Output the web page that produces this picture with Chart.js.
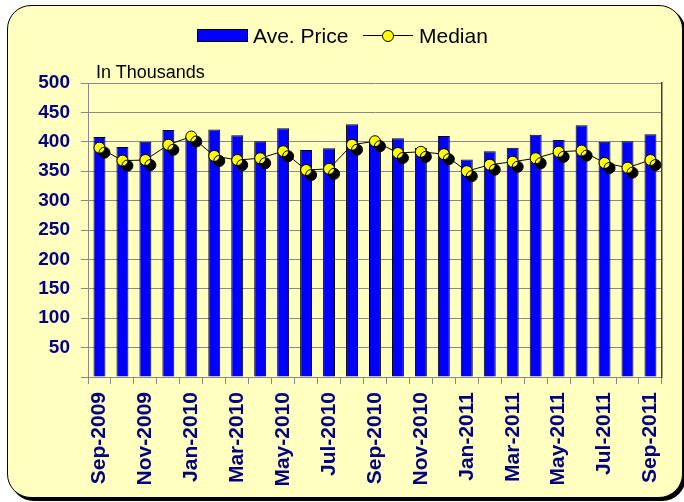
<!DOCTYPE html>
<html>
<head>
<meta charset="utf-8">
<script src="https://cdn.jsdelivr.net/npm/chart.js@4/dist/chart.umd.min.js"></script>
<style>
  body { margin: 0; background: #fff; width: 684px; height: 502px; overflow: hidden; position: relative; font-family: "Liberation Sans", Arial, sans-serif; }
  #frame { position: absolute; left: 7px; top: 5px; width: 674px; height: 491px; background: #FFFFC0; border: 1px solid #000; border-radius: 24px; box-shadow: 3px 3px 0 #000; }
  #chart { position: absolute; left: 0; top: 0; }
  .lg { position: absolute; font-size: 21px; color: #000; line-height: 21px; }
  #unit { position: absolute; left: 96px; top: 63px; font-size: 18px; line-height: 18px; color: #000; }
</style>
</head>
<body>
<div id="frame"></div>
<canvas id="chart" width="684" height="502"></canvas>
<div style="position:absolute;left:197px;top:29px;width:49px;height:11px;background:#0000FF;border:1px solid #000;"></div>
<div class="lg" style="left:253px;top:25px;">Ave. Price</div>
<div style="position:absolute;left:363px;top:35px;width:50px;height:1px;background:#000;"></div>
<div style="position:absolute;left:382px;top:30px;width:10px;height:10px;border-radius:50%;background:#FFFF00;border:1px solid #000;"></div>
<div class="lg" style="left:419px;top:25px;">Median</div>
<div id="unit">In Thousands</div>
<script>
let months = ['Sep-2009', 'Oct-2009', 'Nov-2009', 'Dec-2009', 'Jan-2010', 'Feb-2010', 'Mar-2010', 'Apr-2010',
    'May-2010', 'Jun-2010', 'Jul-2010', 'Aug-2010', 'Sep-2010', 'Oct-2010', 'Nov-2010', 'Dec-2010',
    'Jan-2011', 'Feb-2011', 'Mar-2011', 'Apr-2011', 'May-2011', 'Jun-2011', 'Jul-2011', 'Aug-2011', 'Sep-2011'];

let avePrice = [408, 391, 400, 420, 410, 421, 411, 401, 423, 386, 389, 430, 402,
    406, 390, 410, 370, 384, 390, 412, 403, 428, 400, 401, 413];

let median = [390, 368, 369, 395, 409, 376, 369, 372, 384, 352, 354, 395, 401,
    381, 383, 379, 350, 361, 366, 372, 383, 385, 364, 356, 369];

let yTicks = [0, 50, 100, 150, 200, 250, 300, 350, 400, 450, 500];

// black drop shadow under the median markers
let markerShadow = {
    id: 'markerShadow',
    beforeDatasetDraw(chart, args) {
        if (args.index !== 2) return;
        let ctx = chart.ctx;
        ctx.save();
        ctx.shadowColor = '#000';
        ctx.shadowOffsetX = 5;
        ctx.shadowOffsetY = 5;
        ctx.shadowBlur = 0;
    },
    afterDatasetDraw(chart, args) {
        if (args.index !== 2) return;
        chart.ctx.restore();
    }
};

let axisFont = { family: 'Liberation Sans', size: 19, weight: 'bold' };

new Chart(document.getElementById('chart').getContext('2d'), {
    data: {
        labels: months,
        datasets: [{
            type: 'bar',
            label: 'Ave. Price',
            data: avePrice,
            backgroundColor: '#0000FF',
            borderColor: '#000',
            borderWidth: 1,
            barPercentage: 0.52,
            categoryPercentage: 1,
            order: 3
        }, {
            type: 'line',
            label: 'Median',
            data: median,
            borderColor: '#000',
            borderWidth: 1,
            pointRadius: 0,
            tension: 0,
            order: 2
        }, {
            type: 'line',
            label: 'Median points',
            data: median,
            showLine: false,
            pointRadius: 5.5,
            pointBackgroundColor: '#FFFF00',
            pointBorderColor: '#000',
            pointBorderWidth: 1,
            order: 1
        }]
    },
    options: {
        responsive: false,
        animation: false,
        layout: { padding: { top: 83, right: 17, bottom: 0, left: 0 } },
        plugins: {
            legend: { display: false },
            tooltip: { enabled: false }
        },
        scales: {
            x: {
                offset: true,
                afterFit: (axis) => { axis.height = 125; },
                grid: { offset: true, drawOnChartArea: false, drawTicks: true, tickLength: 7, color: '#888' },
                border: { color: '#888' },
                ticks: {
                    autoSkip: false,
                    minRotation: 90,
                    maxRotation: 90,
                    padding: 8,
                    color: '#000080',
                    font: { family: 'Liberation Sans', size: 21, weight: 'bold' },
                    callback: (v, i) => (i % 2 === 0 ? months[i] : '')
                }
            },
            y: {
                min: 0,
                max: 500,
                afterFit: (axis) => { axis.width = 88; },
                afterBuildTicks: (axis) => { axis.ticks = yTicks.map(v => ({ value: v })); },
                grid: { color: '#888', tickLength: 7 },
                border: { color: '#888' },
                ticks: {
                    padding: 11,
                    color: '#000080',
                    font: axisFont,
                    callback: (v) => (v === 0 ? '' : v)
                }
            },
            yr: {
                position: 'right',
                min: 0,
                max: 500,
                afterFit: (axis) => { axis.width = 0; },
                grid: { drawOnChartArea: false, drawTicks: false },
                border: { color: '#404040', width: 1.5 },
                ticks: { display: false }
            }
        }
    },
    plugins: [markerShadow]
});
</script>
</body>
</html>
